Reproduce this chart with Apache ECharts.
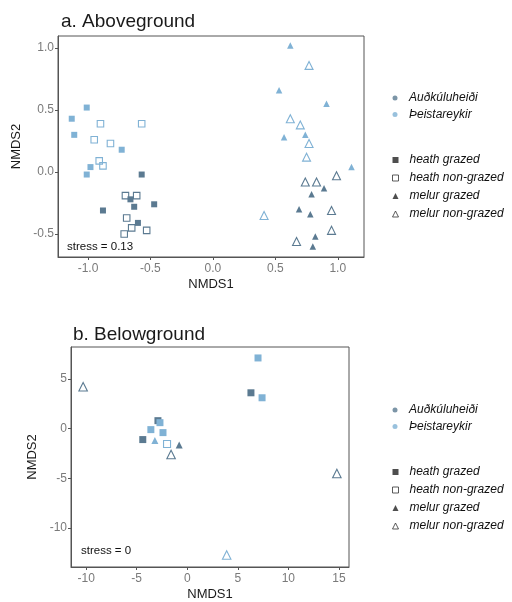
<!DOCTYPE html>
<html><head><meta charset="utf-8">
<script src="https://cdn.jsdelivr.net/npm/echarts@6/dist/echarts.min.js"></script>
<style>html,body{margin:0;padding:0;background:#fff}#c{width:512px;height:602px}</style>
</head><body><div id="c"></div>
<script>
// ---- Data: panel a (Aboveground) ----
const aboveAudHeathGrazed = [[-0.57,-0.02],[-0.66,-0.22],[-0.63,-0.28],[-0.47,-0.26],[-0.88,-0.31],[-0.60,-0.41]];
const aboveAudHeathNon    = [[-0.70,-0.19],[-0.61,-0.19],[-0.69,-0.37],[-0.65,-0.45],[-0.53,-0.47],[-0.71,-0.50]];
const aboveTheHeathGrazed = [[-1.13,0.43],[-1.01,0.52],[-1.11,0.30],[-0.73,0.18],[-0.98,0.04],[-1.01,-0.02]];
const aboveTheHeathNon    = [[-0.90,0.39],[-0.57,0.39],[-0.95,0.26],[-0.82,0.23],[-0.91,0.09],[-0.88,0.05]];
const aboveAudMelurGrazed = [[0.89,-0.13],[0.79,-0.18],[0.69,-0.30],[0.78,-0.34],[0.82,-0.52],[0.80,-0.60]];
const aboveAudMelurNon    = [[0.99,-0.03],[0.74,-0.08],[0.83,-0.08],[0.95,-0.31],[0.95,-0.47],[0.67,-0.56]];
const aboveTheMelurGrazed = [[0.62,1.02],[0.53,0.66],[0.91,0.55],[0.57,0.28],[0.74,0.30],[1.11,0.04]];
const aboveTheMelurNon    = [[0.77,0.86],[0.62,0.43],[0.70,0.38],[0.77,0.23],[0.75,0.12],[0.41,-0.35]];
// ---- Data: panel b (Belowground) ----
const belowAudHeathGrazed = [[6.3,3.6],[-4.4,-1.1],[-2.9,0.8]];
const belowAudHeathNon    = [];
const belowTheHeathGrazed = [[7.0,7.1],[7.4,3.1],[-3.6,-0.1],[-2.4,-0.4],[-2.7,0.6]];
const belowTheHeathNon    = [[-2.0,-1.55]];
const belowAudMelurGrazed = [[-0.8,-1.65]];
const belowAudMelurNon    = [[-10.3,4.2],[-1.6,-2.6],[14.8,-4.5]];
const belowTheMelurGrazed = [[-3.2,-1.2]];
const belowTheMelurNon    = [[3.9,-12.7]];
// ---- Labels / ticks ----
const siteNames = ['Auðkúluheiði','Þeistareykir'];
const treatNames = ['heath grazed','heath non-grazed','melur grazed','melur non-grazed'];
const aboveXTicks = [-1,-0.5,0,0.5,1];
const aboveYTicks = [-0.5,0,0.5,1];
const belowXTicks = [-10,-5,0,5,10,15];
const belowYTicks = [-10,-5,0,5];
const titles = ['a. Aboveground','b. Belowground'];
const stressTexts = ['stress = 0.13','stress = 0'];

const DARK = '#5b7a91', LIGHT = '#80b2d5';
const FONT = '"Liberation Sans", Arial, sans-serif';

function mk(data, p, site, shape, open, size){
  const c = site===0 ? DARK : LIGHT;
  return {type:'scatter', name:'s', xAxisIndex:p, yAxisIndex:p, data,
    symbol: shape, symbolSize: size, silent:true,
    itemStyle: open ? {color:'rgba(255,255,255,0)', borderColor:c, borderWidth:1.1, opacity:1}
                    : {color:c, opacity:1}};
}
const series = [];
const A = [aboveAudHeathGrazed,aboveAudHeathNon,aboveAudMelurGrazed,aboveAudMelurNon];
const T = [aboveTheHeathGrazed,aboveTheHeathNon,aboveTheMelurGrazed,aboveTheMelurNon];
const BA = [belowAudHeathGrazed,belowAudHeathNon,belowAudMelurGrazed,belowAudMelurNon];
const BT = [belowTheHeathGrazed,belowTheHeathNon,belowTheMelurGrazed,belowTheMelurNon];
const shapes = ['rect','rect','triangle','triangle'];
const opens = [false,true,false,true];
const sizesA = [6,6.5,6.5,8];
const sizesB = [7,7,7,8.5];
[[A,T,0,sizesA],[BA,BT,1,sizesB]].forEach(([a,t,p,sz])=>{
  for(let i=0;i<4;i++){
    series.push(mk(a[i],p,0,shapes[i],opens[i],sz[i]));
    series.push(mk(t[i],p,1,shapes[i],opens[i],sz[i]));
  }
});
// dummy series for legends
siteNames.forEach((n,i)=>series.push({type:'scatter',name:n,data:[],xAxisIndex:0,yAxisIndex:0,itemStyle:{color:i===0?DARK:LIGHT}}));
treatNames.forEach((n,i)=>series.push({type:'scatter',name:n,data:[],xAxisIndex:0,yAxisIndex:0,symbol:shapes[i],itemStyle:{color:'#222'}}));

const siteLegendData = siteNames.map((n,i)=>({name:n, icon:'circle', itemStyle:{color:i===0?DARK:LIGHT}}));
const treatLegendData = treatNames.map((n,i)=>({name:n, icon:shapes[i],
  itemStyle: opens[i] ? {color:'#fff', borderColor:'#333', borderWidth:1} : {color:'#222'}}));

function legend(data, top, w, gap){
  const off = (6 - w) / 2;
  return {orient:'vertical', left:387 + off, top, data, selectedMode:false, itemWidth:w, itemHeight:w,
    itemGap:gap,
    textStyle:{fontFamily:FONT, fontSize:12, fontStyle:'italic', color:'#111', lineHeight:13, padding:[0,0,0,6+off]}};
}

const axisCommon = (name, ticks, fmt, gap, isY) => ({
  type:'value', name, nameLocation:'middle', nameGap:gap,
  nameTextStyle:{fontFamily:FONT, fontSize:13, color:'#1a1a1a'},
  axisLine:{show:true, onZero:false, lineStyle:{color:'#555'}},
  axisTick:{show:true, inside:false, length:3, lineStyle:{color:'#555'}, customValues:ticks},
  axisLabel:{fontFamily:FONT, fontSize:12, color:'#7a7a7a', margin:isY?4:6, customValues:ticks, formatter:fmt},
  splitLine:{show:false}
});
const f1 = v => Number(v).toFixed(1);
const f0 = v => String(Math.round(v));

const option = {
  animation:false,
  backgroundColor:'#fff',
  title:[
    {text:titles[0], left:56, top:7, textStyle:{fontFamily:FONT, fontSize:19, fontWeight:'normal', color:'#1a1a1a'}},
    {text:titles[1], left:68, top:320, textStyle:{fontFamily:FONT, fontSize:19, fontWeight:'normal', color:'#1a1a1a'}}
  ],
  grid:[
    {left:58, top:36, width:306, height:221, show:true, borderColor:'#555', borderWidth:1},
    {left:71, top:347, width:278, height:221, show:true, borderColor:'#555', borderWidth:1}
  ],
  xAxis:[
    Object.assign(axisCommon('NMDS1', aboveXTicks, f1, 21, false), {gridIndex:0, min:-1.24, max:1.21}),
    Object.assign(axisCommon('NMDS1', belowXTicks, f0, 21, false), {gridIndex:1, min:-11.5, max:16.0})
  ],
  yAxis:[
    Object.assign(axisCommon('NMDS2', aboveYTicks, f1, 30, true), {gridIndex:0, min:-0.685, max:1.097}),
    Object.assign(axisCommon('NMDS2', belowYTicks, f0, 27, true), {gridIndex:1, min:-13.9, max:8.2})
  ],
  legend:[
    legend(siteLegendData, 86.5, 5, 3.5),
    legend(treatLegendData, 148.5, 6, 5),
    legend(siteLegendData, 398.5, 5, 3.5),
    legend(treatLegendData, 460.5, 6, 5)
  ],
  graphic:[
    {type:'text', left:67, top:241, style:{text:stressTexts[0], font:'11.5px '+FONT, fill:'#111'}},
    {type:'text', left:81, top:545, style:{text:stressTexts[1], font:'11.5px '+FONT, fill:'#111'}}
  ],
  series
};
const chart = echarts.init(document.getElementById('c'), null, {renderer:'canvas'});
chart.setOption(option);
</script></body></html>
